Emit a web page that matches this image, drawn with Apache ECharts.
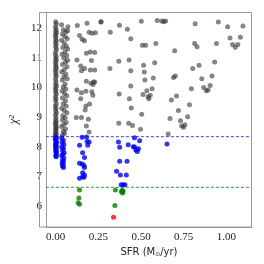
<!DOCTYPE html>
<html><head><meta charset="utf-8">
<script src="https://cdn.jsdelivr.net/npm/echarts@6/dist/echarts.min.js"></script>
<style>html,body{margin:0;padding:0;background:#fff}#c{width:264px;height:264px}</style>
</head><body><div id="c"></div>
<script>
// x tick labels and y tick labels
const xTicks = [0, 0.25, 0.5, 0.75, 1.0];
const yTicks = [6, 7, 8, 9, 10, 11, 12];
const xRange = [-0.057, 1.150];
const yRange = [5.29, 12.55];
const blueThreshold = 8.34;
const greenThreshold = 6.63;

// gray points: chi2 above the blue threshold
const grayColA = [
 [0.000,12.22],[0.004,12.15],[-0.002,12.05],[0.003,11.98],[0.000,11.90],[0.005,11.85],[-0.002,11.78],[0.002,11.72],
 [0.000,11.65],[0.004,11.58],[-0.001,11.52],[0.003,11.45],[0.000,11.38],[0.005,11.30],[0.001,11.22],[-0.002,11.12],
 [0.003,11.05],[0.000,10.98],[0.004,10.92],[-0.001,10.85],[0.002,10.78],[0.000,10.72],[0.005,10.65],[-0.002,10.60],
 [0.002,10.52],[0.000,10.45],[0.004,10.38],[-0.001,10.30],[0.002,10.20],[0.000,10.12],[0.005,10.05],[-0.002,9.98],
 [0.002,9.92],[0.000,9.85],[0.004,9.78],[-0.001,9.70],[0.002,9.62],[0.000,9.55],[0.004,9.45],[-0.002,9.38],
 [0.002,9.30],[0.000,9.22],[0.005,9.15],[-0.001,9.08],[0.002,9.00],[0.000,8.92],[0.004,8.85],[-0.002,8.80],
 [0.002,8.75],[0.000,8.70],[0.005,8.65],[-0.001,8.60],[0.002,8.55],[0.000,8.50],[0.004,8.45],[-0.002,8.42],[0.002,8.38]
];
const grayColB = [
 [0.035,12.12],[0.072,12.05],[0.045,11.95],[0.060,11.88],[0.070,11.92],[0.040,11.80],[0.055,11.72],[0.068,11.65],
 [0.035,11.60],[0.050,11.50],[0.062,11.40],[0.042,11.35],[0.070,11.30],[0.055,11.20],[0.038,11.12],[0.065,11.08],
 [0.048,11.00],[0.070,10.92],[0.058,10.85],[0.040,10.78],[0.066,10.70],[0.050,10.60],[0.036,10.52],[0.060,10.45],
 [0.048,10.36],[0.068,10.30],[0.040,10.25],[0.055,10.12],[0.045,10.02],[0.060,9.95],[0.038,9.88],[0.052,9.80],
 [0.065,9.72],[0.040,9.65],[0.058,9.55],[0.045,9.45],[0.062,9.38],[0.036,9.30],[0.050,9.22],[0.066,9.15],
 [0.042,9.05],[0.056,8.98],[0.040,8.90],[0.062,8.82],[0.048,8.75],[0.035,8.68],[0.058,8.60],[0.045,8.52],[0.052,8.45],[0.040,8.40]
];
const grayMid = [
 [0.127,12.09],[0.184,12.17],[0.265,12.21],[0.266,12.22],[0.140,11.76],[0.155,11.63],[0.169,11.58],[0.196,11.87],
 [0.214,11.83],[0.233,11.85],[0.180,11.16],[0.203,11.20],[0.229,11.18],[0.125,10.93],[0.210,10.91],[0.147,10.73],
 [0.169,10.64],[0.151,10.57],[0.203,10.59],[0.229,10.59],[0.180,10.21],[0.207,10.14],[0.222,10.19],[0.229,10.19],
 [0.219,10.10],[0.125,9.92],[0.151,9.82],[0.147,9.62],[0.177,9.87],[0.212,9.86],[0.218,9.74],[0.199,9.44],
 [0.177,9.38],[0.173,9.24],[0.121,8.99],[0.151,8.99],[0.192,8.93],[0.180,8.70],[0.196,8.50]
];
const grayRight = [
 [0.320,11.87],[0.374,12.10],[0.420,11.97],[0.440,11.65],[0.370,10.89],[0.430,10.93],[0.318,10.64],[0.440,10.57],
 [0.440,10.05],[0.372,9.78],[0.432,9.62],[0.443,9.31],[0.370,8.79],[0.428,8.79],[0.450,8.72],
 [0.502,12.24],[0.595,12.26],[0.622,12.25],[0.633,12.22],[0.644,12.25],[0.817,12.15],[0.953,12.21],[1.007,12.05],
 [1.097,12.08],[1.021,11.67],[1.082,11.70],[1.036,11.45],[1.052,11.36],[1.067,11.45],[0.942,11.49],[0.814,11.49],
 [0.828,11.38],[0.697,11.24],[0.587,11.49],[0.508,11.43],[0.527,11.43],[0.931,10.86],[0.840,10.75],[0.803,10.64],
 [0.580,10.84],[0.515,10.75],[0.519,10.52],[0.916,10.39],[0.856,10.30],[0.690,10.34],[0.701,10.39],[0.572,10.32],
 [0.523,10.25],[0.905,10.07],[0.867,10.00],[0.882,9.89],[0.893,9.92],[0.795,9.96],[0.565,9.96],[0.534,9.89],
 [0.512,9.76],[0.541,9.69],[0.554,9.74],[0.546,9.62],[0.708,9.71],[0.678,9.58],[0.784,9.42],[0.719,9.22],
 [0.504,9.10],[0.773,9.01],[0.670,8.95],[0.731,8.88],[0.757,8.74],[0.738,8.70],[0.749,8.66],[0.497,8.59],[0.659,8.43]
];
// blue points: between the thresholds
const bluePoints = [
 [0.000,8.32],[0.004,8.28],[-0.002,8.25],[0.002,8.20],[0.005,8.15],[0.000,8.12],[0.003,8.08],[-0.001,8.03],
 [0.004,8.00],[0.001,7.96],[0.003,7.92],[0.000,7.88],[0.005,7.84],[0.002,7.80],[0.004,7.75],[0.001,7.70],[0.003,7.66],
 [0.035,8.30],[0.045,8.22],[0.038,8.15],[0.048,8.08],[0.036,8.00],[0.046,7.95],[0.040,7.88],[0.050,7.80],
 [0.042,7.75],[0.036,7.70],[0.048,7.62],[0.040,7.55],[0.046,7.50],[0.038,7.45],[0.044,7.40],[0.040,7.35],[0.046,7.30],
 [0.155,8.32],[0.181,8.33],[0.184,8.18],[0.196,8.16],[0.140,8.05],[0.188,8.05],[0.158,7.80],[0.169,7.64],
 [0.140,7.44],[0.155,7.42],[0.166,7.37],[0.169,7.30],[0.158,7.12],[0.169,7.05],[0.158,6.99],[0.140,6.94],[0.166,6.97],
 [0.368,8.16],[0.375,7.98],[0.375,7.51],[0.357,7.17],[0.379,7.05],[0.414,7.05],[0.418,7.51],[0.425,8.07],
 [0.455,8.00],[0.462,8.30],[0.492,8.20],[0.462,7.99],[0.485,7.93],[0.478,7.84],[0.470,7.89],
 [0.384,6.72],[0.395,6.72],[0.406,6.72],[0.652,8.09]
];
// green points: below the green threshold
const greenPoints = [
 [0.140,6.54],[0.136,6.27],[0.132,6.11],[0.140,6.06],[0.350,6.54],[0.390,6.53],[0.395,6.50],[0.392,6.44],[0.385,6.48],[0.347,6.02]
];
// red point: minimum chi2
const redPoints = [[0.339,5.62]];

const grayPoints = grayColA.concat(grayColB, grayMid, grayRight);

const chart = echarts.init(document.getElementById('c'), null, {renderer:'canvas'});
const serif = '"Liberation Serif", "DejaVu Serif", serif';
const sym = 5;
chart.setOption({
  animation:false,
  grid:{left:39, top:12, right:12, bottom:37},
  xAxis:{
    type:'value', min:xRange[0], max:xRange[1],
    name:'SFR (M{sub|⊙}/yr)', nameLocation:'middle', nameGap:17,
    nameTextStyle:{fontFamily:'"DejaVu Sans", sans-serif', fontSize:10, color:'#222',
      rich:{sub:{fontSize:6, verticalAlign:'bottom', padding:[4,0,0,0], fontFamily:'"DejaVu Sans", sans-serif', color:'#222'}}},
    axisLine:{show:true, onZero:false, lineStyle:{color:'#999', width:1}},
    axisTick:{show:false},
    splitLine:{show:false},
    axisLabel:{customValues:xTicks, formatter:v=>v.toFixed(2), fontFamily:serif, fontSize:11, color:'#222', margin:5}
  },
  yAxis:{
    type:'value', min:yRange[0], max:yRange[1],
    name:'χ²', nameLocation:'middle', nameGap:16, nameRotate:90,
    nameTextStyle:{fontFamily:serif, fontStyle:'italic', fontSize:12, color:'#222'},
    axisLine:{show:true, onZero:false, lineStyle:{color:'#999', width:1}},
    axisTick:{show:false},
    splitLine:{show:false},
    axisLabel:{customValues:yTicks, formatter:v=>String(v), fontFamily:serif, fontSize:11, color:'#222', margin:4}
  },
  graphic:[{type:'rect', shape:{x:39.5, y:12.5, width:212, height:214.5}, style:{fill:'none', stroke:'#999', lineWidth:1}, silent:true, z:100}],
  series:[
    {type:'line', data:[[xRange[0],blueThreshold],[xRange[1],blueThreshold]], showSymbol:false, silent:true,
     lineStyle:{color:'#4040ff', type:[3,2], width:1}, z:1},
    {type:'line', data:[[xRange[0],greenThreshold],[xRange[1],greenThreshold]], showSymbol:false, silent:true,
     lineStyle:{color:'#2e9e2e', type:[3,2], width:1}, z:1},
    {type:'scatter', data:grayPoints, symbolSize:sym, itemStyle:{color:'#333', opacity:0.6}, z:2},
    {type:'scatter', data:bluePoints, symbolSize:sym, itemStyle:{color:'#0000ff'}, z:3},
    {type:'scatter', data:greenPoints, symbolSize:sym, itemStyle:{color:'#008000'}, z:3},
    {type:'scatter', data:redPoints, symbolSize:sym, itemStyle:{color:'#ff0000'}, z:3}
  ]
});
</script></body></html>
